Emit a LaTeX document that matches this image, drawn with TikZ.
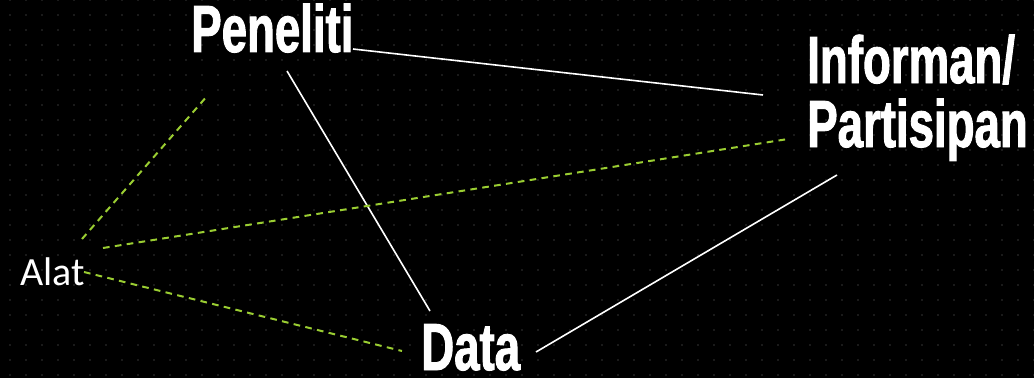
\documentclass[tikz,border=0pt]{standalone}
\usepackage{fontspec}
\newfontfamily\headfont[FakeStretch=0.684,FakeBold=1.4]{Liberation Sans Bold}
\newfontfamily\alatfont{Carlito}
\definecolor{dashgreen}{HTML}{9ACD32}
\definecolor{dotgray}{HTML}{242424}
\tikzset{
  head/.style={text=white, inner sep=0pt, anchor=base west, font=\headfont\fontsize{50}{48}\selectfont},
  small/.style={text=white, inner sep=0pt, anchor=base west, font=\alatfont\fontsize{30}{34}\selectfont},
  solidline/.style={draw=white, line width=1.2pt},
  dashline/.style={draw=dashgreen, line width=1.5pt, dash pattern=on 5pt off 4pt}
}
\begin{document}
\begin{tikzpicture}[x=0.75pt,y=-0.75pt]
\fill[black] (0,0) rectangle (1034,378);
\useasboundingbox (0,0) rectangle (1034,378);
\foreach \i in {0,...,64}{
  \foreach \j in {0,...,25}{
    \fill[dotgray] (10+16*\i,15*\j) circle (1.1);
  }
}
% nodes
\node[head] (pen) at (191,52) {Peneliti};
\node[head, align=left] (inf) at (807,147) {Informan/\\Partisipan};
\node[head] (dat) at (421,370) {Data};
\node[small] (alat) at (20,285) {Alat};
% connector end points
\coordinate (pen-r) at (353,49);
\coordinate (pen-b) at (287,71);
\coordinate (pen-l) at (208,95);
\coordinate (inf-l) at (763,95);
\coordinate (inf-m) at (788,139);
\coordinate (inf-b) at (837,175);
\coordinate (dat-t) at (430,311);
\coordinate (dat-l) at (402,351);
\coordinate (dat-r) at (536,352);
\coordinate (alat-t) at (82,239);
\coordinate (alat-m) at (103,248);
\coordinate (alat-r) at (84,272);
% connectors
\draw[solidline] (pen-r) -- (inf-l);
\draw[solidline] (pen-b) -- (dat-t);
\draw[solidline] (dat-r) -- (inf-b);
\draw[dashline] (alat-t) -- (pen-l);
\draw[dashline] (alat-m) -- (inf-m);
\draw[dashline] (alat-r) -- (dat-l);
\end{tikzpicture}
\end{document}
